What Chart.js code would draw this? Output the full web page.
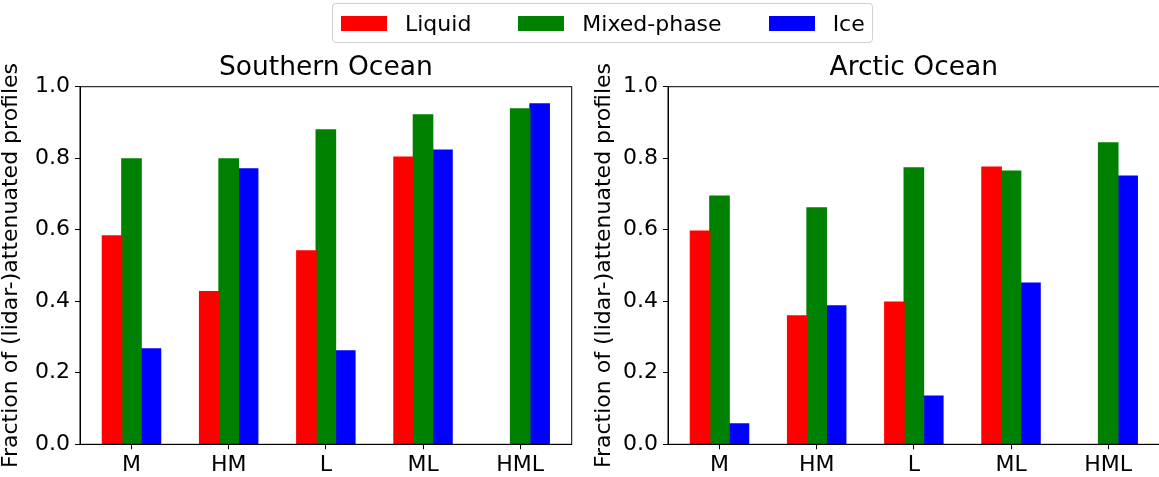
<!DOCTYPE html>
<html>
<head>
<meta charset="utf-8">
<script src="https://cdn.jsdelivr.net/npm/chart.js@4"></script>
<style>
  body { margin: 0; width: 1159px; height: 477px; position: relative; overflow: hidden; background: #fff; font-family: 'DejaVu Sans'; }
  .panel { position: absolute; top: 0; height: 477px; overflow: hidden; }
  #legend { position: absolute; left: 332px; top: 3px; width: 531px; height: 38px; border: 1px solid #d0d0d0; border-radius: 4px;
            display: flex; align-items: center; padding-left: 8px; box-sizing: content-box; font-size: 22px; color: #000; }
  .item { display: flex; align-items: center; margin-right: 47px; }
  .swatch { width: 46px; height: 15px; margin-right: 18px; }
</style>
</head>
<body>
<div class="panel" style="left:0;width:580px"><canvas id="southern" width="580" height="477"></canvas></div>
<div class="panel" style="left:580px;width:579px"><canvas id="arctic" width="585" height="477"></canvas></div>
<div id="legend"></div>
<script>
'use strict';

// Chart data
let categories = ['M', 'HM', 'L', 'ML', 'HML'];
let seriesNames = ['Liquid', 'Mixed-phase', 'Ice'];
let seriesColors = ['#ff0000', '#008000', '#0000ff'];
let southernLiquid = [0.583, 0.427, 0.541, 0.803, 0];
let southernMixed = [0.798, 0.798, 0.879, 0.921, 0.938];
let southernIce = [0.267, 0.770, 0.261, 0.823, 0.952];
let arcticLiquid = [0.596, 0.359, 0.398, 0.775, 0];
let arcticMixed = [0.694, 0.661, 0.773, 0.764, 0.843];
let arcticIce = [0.057, 0.387, 0.135, 0.451, 0.750];
let yTicks = [0, 0.2, 0.4, 0.6, 0.8, 1.0];
let yLabel = 'Fraction of (lidar-)attenuated profiles';

Chart.defaults.font.family = 'DejaVu Sans';
Chart.defaults.color = '#000';

// draws the full box around the plot area (top and right spines too)
const framePlugin = {
  id: 'frame',
  afterDraw(chart) {
    let a = chart.chartArea;
    let ctx = chart.ctx;
    ctx.save();
    ctx.strokeStyle = '#000';
    ctx.lineWidth = 1;
    ctx.strokeRect(a.left, a.top, a.right - a.left, a.bottom - a.top);
    ctx.restore();
  }
};

function toPoints(values) {
  return values.map((v, i) => ({ x: i, y: v }));
}

function makeChart(id, title, liquid, mixed, ice, yWidth, labelPad, rightPad) {
  let ctx = document.getElementById(id).getContext('2d');
  let series = [liquid, mixed, ice];
  return new Chart(ctx, { // eslint-disable-line
    type: 'bar',
    data: {
      datasets: series.map((s, k) => ({
        label: seriesNames[k],
        data: toPoints(s),
        backgroundColor: seriesColors[k],
        borderWidth: 0,
        // small overlap so neighbouring bars touch, none for empty bars
        inflateAmount: (c) => (c.raw && c.raw.y === 0 ? 0 : 0.6),
        categoryPercentage: 0.6,
        barPercentage: 1.0
      }))
    },
    options: {
      responsive: false,
      animation: false,
      layout: { padding: { top: 0, left: 0, right: rightPad, bottom: 0 } },
      plugins: {
        legend: { display: false },
        tooltip: { enabled: false },
        title: {
          display: true,
          text: title,
          fullSize: false,
          font: { size: 26.5, weight: 'normal', lineHeight: 1.2 },
          padding: { top: 52.4, bottom: 2.5 }
        }
      },
      scales: {
        x: {
          type: 'linear',
          offset: false,
          min: -0.53,
          max: 4.53,
          afterBuildTicks: (scale) => { scale.ticks = categories.map((c, i) => ({ value: i })); },
          afterFit: (scale) => { scale.height = 32.7; },
          ticks: { font: { size: 22 }, padding: 3, maxRotation: 0, callback: (v) => categories[v] },
          grid: { offset: false, drawOnChartArea: false, drawTicks: true, tickLength: 5, color: '#000' },
          border: { display: true, color: '#000', width: 1 }
        },
        y: {
          min: 0,
          max: 1,
          afterBuildTicks: (scale) => { scale.ticks = yTicks.map((v) => ({ value: v })); },
          afterFit: (scale) => { scale.width = yWidth; },
          ticks: { font: { size: 22 }, padding: 5, callback: (v) => v.toFixed(1) },
          grid: { drawOnChartArea: false, drawTicks: true, tickLength: 5, color: '#000' },
          border: { display: true, color: '#000', width: 1 },
          title: {
            display: true,
            text: yLabel,
            font: { size: 22, lineHeight: 1.0 },
            padding: { top: labelPad, bottom: 0 }
          }
        }
      }
    },
    plugins: [framePlugin]
  });
}

makeChart('southern', 'Southern Ocean', southernLiquid, southernMixed, southernIce, 80, 0, 8.3);
makeChart('arctic', 'Arctic Ocean', arcticLiquid, arcticMixed, arcticIce, 88, 13.4, 5.3);

// Legend shared by both panels
let legend = document.getElementById('legend');
for (let k = 0; k < seriesNames.length; k++) {
  let item = document.createElement('div');
  item.className = 'item';
  let swatch = document.createElement('span');
  swatch.className = 'swatch';
  swatch.style.background = seriesColors[k];
  let text = document.createElement('span');
  text.textContent = seriesNames[k];
  item.appendChild(swatch);
  item.appendChild(text);
  if (k === seriesNames.length - 1) item.style.marginRight = '0';
  legend.appendChild(item);
}
</script>
</body>
</html>
